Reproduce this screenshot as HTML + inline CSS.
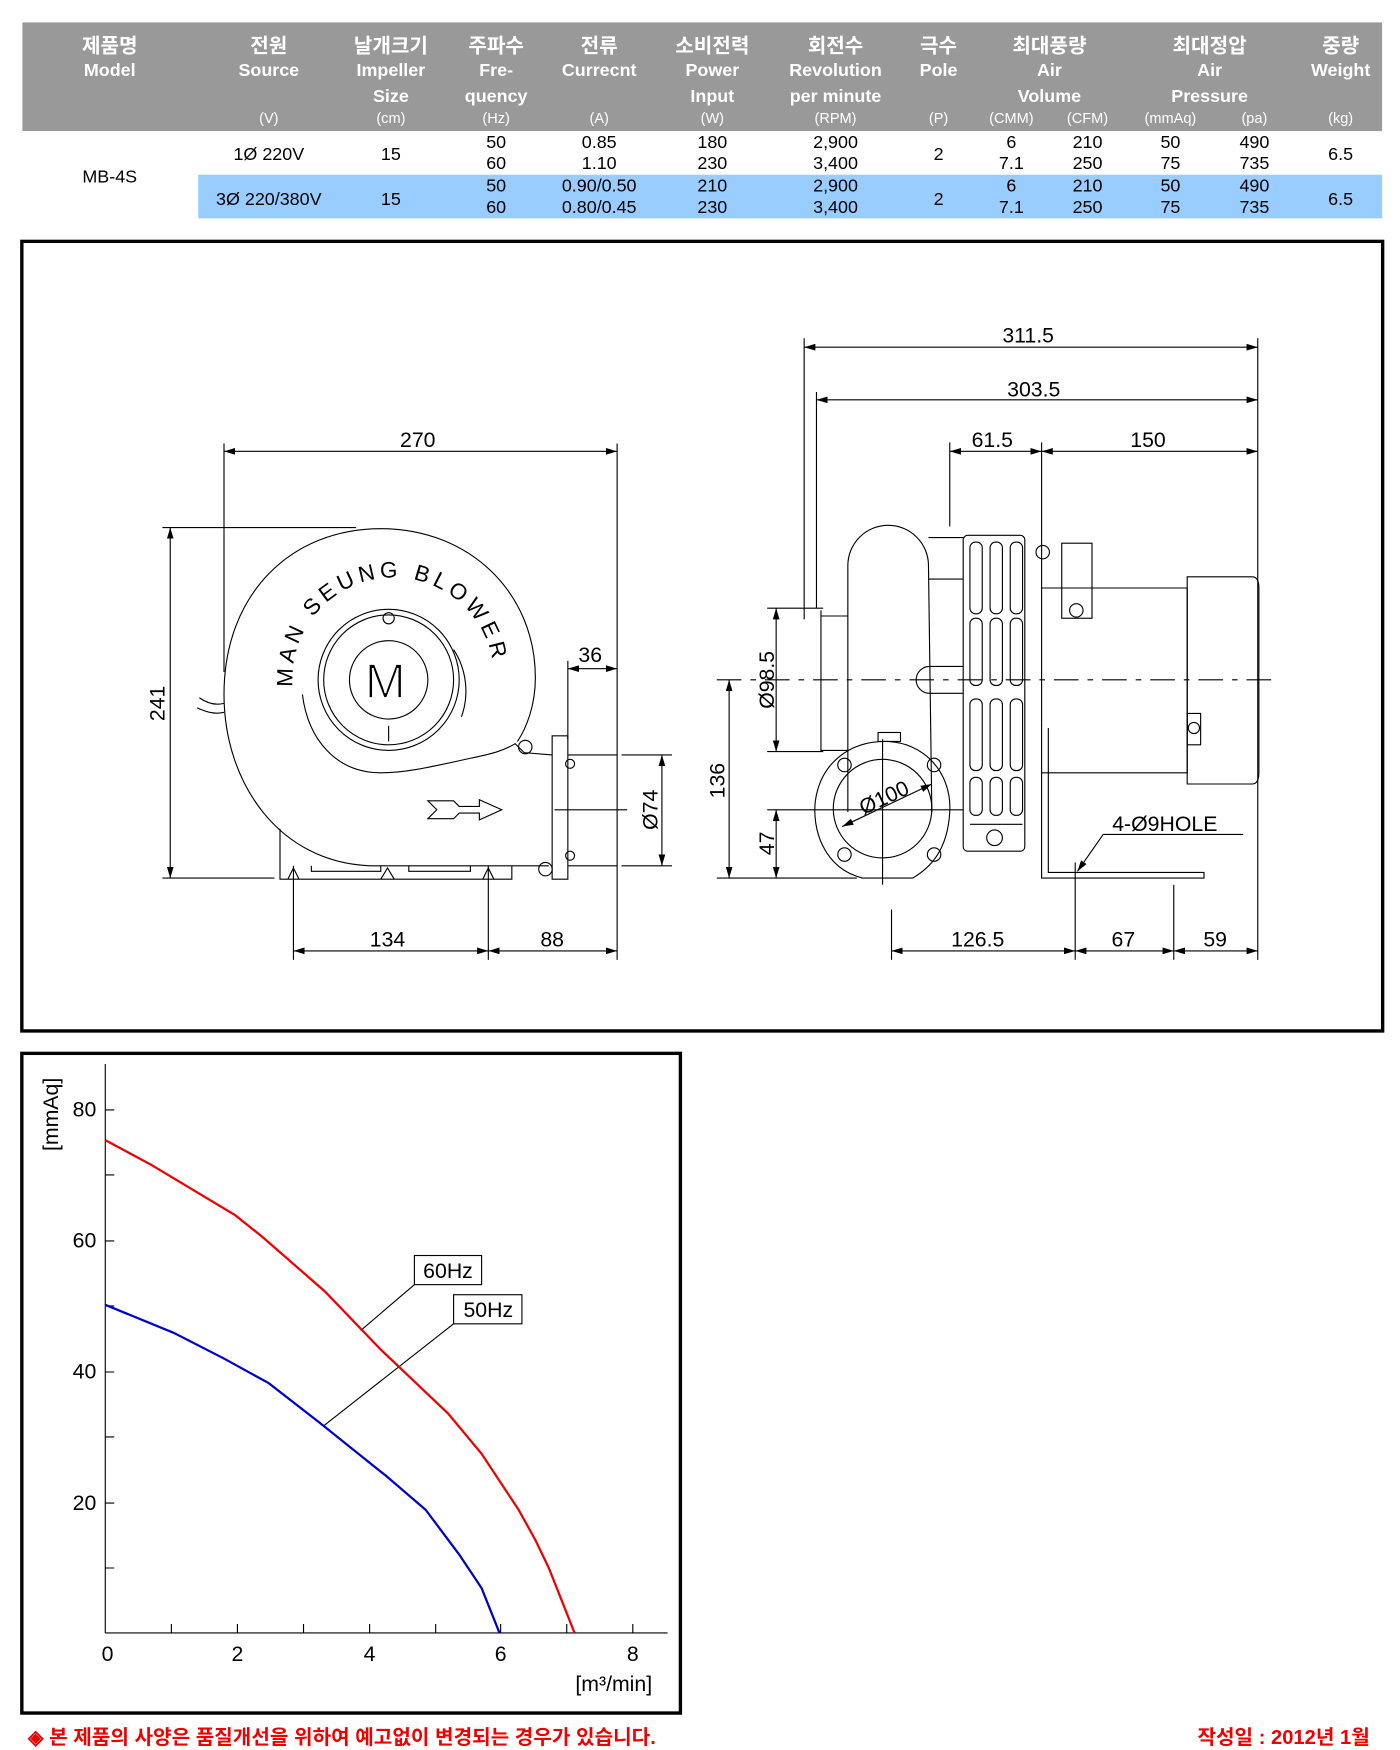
<!DOCTYPE html>
<html><head><meta charset="utf-8"><style>
html,body{margin:0;padding:0;background:#fff;}
svg{display:block;}
text{font-family:"Liberation Sans","Noto Sans CJK KR",sans-serif;}
</style></head><body>
<svg width="1400" height="1750" viewBox="0 0 1250 1562.5" xmlns="http://www.w3.org/2000/svg">
<rect x="20" y="20" width="1214" height="97" fill="#999"/>
<rect x="177" y="156" width="1057" height="39" fill="#99ccff"/>
<g fill="#fff" font-weight="bold" text-anchor="middle">
<g font-size="18">
<text x="98" y="47">제품명</text><text x="240" y="47">전원</text><text x="349" y="47">날개크기</text><text x="443" y="47">주파수</text><text x="535" y="47">전류</text><text x="636" y="47">소비전력</text><text x="746" y="47">회전수</text><text x="838" y="47">극수</text><text x="937" y="47">최대풍량</text><text x="1080" y="47">최대정압</text><text x="1197" y="47">중량</text>
</g>
<g font-size="16">
<text x="98" y="68">Model</text><text x="240" y="68">Source</text><text x="349" y="68">Impeller</text><text x="443" y="68">Fre-</text><text x="535" y="68">Currecnt</text><text x="636" y="68">Power</text><text x="746" y="68">Revolution</text><text x="838" y="68">Pole</text><text x="937" y="68">Air</text><text x="1080" y="68">Air</text><text x="1197" y="68">Weight</text>
<text x="349" y="91">Size</text><text x="443" y="91">quency</text><text x="636" y="91">Input</text><text x="746" y="91">per minute</text><text x="937" y="91">Volume</text><text x="1080" y="91">Pressure</text>
</g>
<g font-size="13" font-weight="normal">
<text x="240" y="110">(V)</text><text x="349" y="110">(cm)</text><text x="443" y="110">(Hz)</text><text x="535" y="110">(A)</text><text x="636" y="110">(W)</text><text x="746" y="110">(RPM)</text><text x="838" y="110">(P)</text><text x="903" y="110">(CMM)</text><text x="971" y="110">(CFM)</text><text x="1045" y="110">(mmAq)</text><text x="1120" y="110">(pa)</text><text x="1197" y="110">(kg)</text>
</g>
</g>
<g fill="#000" font-size="16" text-anchor="middle">
<text x="98" y="163">MB-4S</text>
<text x="240" y="143">1Ø 220V</text><text x="349" y="143">15</text>
<text x="443" y="132">50</text><text x="443" y="151">60</text>
<text x="535" y="132">0.85</text><text x="535" y="151">1.10</text>
<text x="636" y="132">180</text><text x="636" y="151">230</text>
<text x="746" y="132">2,900</text><text x="746" y="151">3,400</text>
<text x="838" y="143">2</text>
<text x="903" y="132">6</text><text x="903" y="151">7.1</text>
<text x="971" y="132">210</text><text x="971" y="151">250</text>
<text x="1045" y="132">50</text><text x="1045" y="151">75</text>
<text x="1120" y="132">490</text><text x="1120" y="151">735</text>
<text x="1197" y="143">6.5</text>
<text x="240" y="183">3Ø 220/380V</text><text x="349" y="183">15</text>
<text x="443" y="171">50</text><text x="443" y="190">60</text>
<text x="535" y="171">0.90/0.50</text><text x="535" y="190">0.80/0.45</text>
<text x="636" y="171">210</text><text x="636" y="190">230</text>
<text x="746" y="171">2,900</text><text x="746" y="190">3,400</text>
<text x="838" y="183">2</text>
<text x="903" y="171">6</text><text x="903" y="190">7.1</text>
<text x="971" y="171">210</text><text x="971" y="190">250</text>
<text x="1045" y="171">50</text><text x="1045" y="190">75</text>
<text x="1120" y="171">490</text><text x="1120" y="190">735</text>
<text x="1197" y="183">6.5</text>
</g>

<rect x="19.5" y="215.5" width="1215" height="705" fill="none" stroke="#000" stroke-width="3"/>
<defs>
<marker id="a" viewBox="0 0 10 6" refX="10" refY="3" markerWidth="10" markerHeight="6" orient="auto-start-reverse" markerUnits="userSpaceOnUse"><path d="M0,0L10,3L0,6z" fill="#000"/></marker>
<path id="arcT" d="M268,640 A90,90 0 1 1 440,620"/>
</defs>
<g stroke="#000" stroke-width="1" fill="none">
<line x1="200" y1="403" x2="551" y2="403" marker-start="url(#a)" marker-end="url(#a)"/>
<line x1="200" y1="396" x2="200" y2="600"/><line x1="551" y1="396" x2="551" y2="857"/>
<line x1="152" y1="471" x2="152" y2="784" marker-start="url(#a)" marker-end="url(#a)"/>
<line x1="145" y1="471" x2="318" y2="471"/><line x1="145" y1="784" x2="245" y2="784"/>
<line x1="507" y1="597" x2="551" y2="597" marker-start="url(#a)" marker-end="url(#a)"/>
<line x1="507" y1="590" x2="507" y2="660"/>
<line x1="591" y1="674" x2="591" y2="773" marker-start="url(#a)" marker-end="url(#a)"/>
<line x1="555" y1="674" x2="600" y2="674"/><line x1="555" y1="773" x2="600" y2="773"/>
<line x1="495" y1="723" x2="560" y2="723"/>
<line x1="262" y1="849" x2="436" y2="849" marker-start="url(#a)" marker-end="url(#a)"/>
<line x1="436" y1="849" x2="551" y2="849" marker-start="url(#a)" marker-end="url(#a)"/>
<line x1="262" y1="773" x2="262" y2="857"/><line x1="436" y1="773" x2="436" y2="857"/>
<path d="M490,773 L330,773 C250,770 200,700 200,620 C200,530 260,472 340,472 C420,472 478,530 478,605 C478,630 470,650 462,662"/>
<path d="M493,674 L468,672 L460,664 C450,670 440,673 420,677 C380,686 360,690 340,690 C300,690 275,660 270,620"/>
<circle cx="347" cy="607" r="63"/><circle cx="347" cy="607" r="58"/><circle cx="347" cy="607" r="35"/>
<path d="M405,580 A68,68 0 0 1 412,640"/>
<circle cx="347" cy="552" r="5"/><line x1="347" y1="648" x2="347" y2="662"/>
<circle cx="469" cy="667" r="6"/>
<rect x="493" y="657" width="14" height="128"/>
<line x1="507" y1="674" x2="551" y2="674"/><line x1="507" y1="773" x2="551" y2="773"/>
<circle cx="509" cy="682" r="4"/><circle cx="509" cy="764" r="4"/><circle cx="487" cy="776" r="6"/>
<path d="M250,740 L250,785 L457,785 L457,773"/>
<path d="M278,773 L278,778 L340,778 L340,773 M365,773 L365,778 L420,778 L420,773"/>
<path d="M257,785 L262,775 L267,785 M340,785 L346,775 L352,785 M431,785 L436,775 L441,785"/>
<path d="M382,715 L405,715 L410,720 L428,720 L428,714 L448,723 L428,732 L428,726 L410,726 L405,731 L382,731 L390,723 Z"/>
<path d="M178,623 C185,628 192,630 200,628 M176,632 C185,636 192,638 200,636"/>
<line x1="718" y1="310" x2="1123" y2="310" marker-start="url(#a)" marker-end="url(#a)"/>
<line x1="729" y1="357" x2="1123" y2="357" marker-start="url(#a)" marker-end="url(#a)"/>
<line x1="848" y1="403" x2="930" y2="403" marker-start="url(#a)" marker-end="url(#a)"/>
<line x1="930" y1="403" x2="1123" y2="403" marker-start="url(#a)" marker-end="url(#a)"/>
<line x1="718" y1="302" x2="718" y2="553"/><line x1="729" y1="350" x2="729" y2="543"/>
<line x1="848" y1="395" x2="848" y2="470"/><line x1="930" y1="395" x2="930" y2="480"/>
<line x1="1123" y1="302" x2="1123" y2="857"/>
<line x1="640" y1="607" x2="1135" y2="607" stroke-dasharray="22,8,5,8"/>
<line x1="693" y1="543" x2="693" y2="671" marker-start="url(#a)" marker-end="url(#a)"/>
<line x1="685" y1="543" x2="735" y2="543"/><line x1="685" y1="671" x2="735" y2="671"/>
<line x1="651" y1="607" x2="651" y2="784" marker-start="url(#a)" marker-end="url(#a)"/>
<line x1="693" y1="723" x2="693" y2="784" marker-start="url(#a)" marker-end="url(#a)"/>
<line x1="685" y1="723" x2="860" y2="723"/>
<line x1="640" y1="784" x2="765" y2="784"/>
<line x1="796" y1="849" x2="960" y2="849" marker-start="url(#a)" marker-end="url(#a)"/>
<line x1="960" y1="849" x2="1048" y2="849" marker-start="url(#a)" marker-end="url(#a)"/>
<line x1="1048" y1="849" x2="1123" y2="849" marker-start="url(#a)" marker-end="url(#a)"/>
<line x1="796" y1="812" x2="796" y2="857"/><line x1="960" y1="770" x2="960" y2="857"/><line x1="1048" y1="790" x2="1048" y2="857"/>
<path d="M757,725 L757,505 A36,36 0 0 1 829,505 L832,725"/>
<path d="M829,480 L860,480 M829,517 L860,517"/>
<path d="M733,550 L757,550 M733,545 L733,670 L757,670"/>
<path d="M830,595 A12,12 0 0 0 830,619 L860,619 M830,595 L860,595"/>
<path d="M770,784 C735,775 725,740 728,715 C733,680 760,662 790,662 C825,662 850,690 848,725 C846,760 830,775 815,784 Z"/>
<circle cx="788" cy="722" r="44"/>
<line x1="788" y1="660" x2="788" y2="790"/>
<line x1="752" y1="738" x2="832" y2="700" marker-start="url(#a)" marker-end="url(#a)"/>
<rect x="784" y="654" width="20" height="8"/>
<circle cx="754" cy="683" r="6"/><circle cx="834" cy="683" r="6"/><circle cx="754" cy="763" r="6"/><circle cx="834" cy="763" r="6"/>
<rect x="860" y="478" width="55" height="282" rx="4"/>
<g>
<rect x="866" y="484" width="11" height="64" rx="5"/><rect x="884" y="484" width="11" height="64" rx="5"/><rect x="902" y="484" width="11" height="64" rx="5"/>
<rect x="866" y="552" width="11" height="60" rx="5"/><rect x="884" y="552" width="11" height="60" rx="5"/><rect x="902" y="552" width="11" height="60" rx="5"/>
<rect x="866" y="624" width="11" height="64" rx="5"/><rect x="884" y="624" width="11" height="64" rx="5"/><rect x="902" y="624" width="11" height="64" rx="5"/>
<rect x="866" y="694" width="11" height="34" rx="5"/><rect x="884" y="694" width="11" height="34" rx="5"/><rect x="902" y="694" width="11" height="34" rx="5"/>
</g>
<line x1="866" y1="736" x2="913" y2="736"/>
<circle cx="888" cy="748" r="7"/>
<path d="M930,525 L1060,525 L1060,690 L930,690"/>
<path d="M1060,515 L1118,515 Q1124,515 1124,525 L1124,690 Q1124,700 1118,700 L1060,700 Z"/>
<rect x="948" y="485" width="27" height="67"/>
<circle cx="961" cy="545" r="6"/>
<rect x="1060" y="637" width="12" height="28"/><circle cx="1066" cy="650" r="5"/>
<line x1="930" y1="480" x2="930" y2="645"/>
<path d="M930,645 L930,784 L1075,784 L1075,779 L936,779 L936,650"/>
<circle cx="931" cy="493" r="6"/>
<path d="M1110,745 L985,745 L962,778" marker-end="url(#a)"/>
</g>
<g fill="#000" font-size="19" text-anchor="middle">
<text x="373" y="399">270</text>
<text x="527" y="591">36</text>
<text x="346" y="845">134</text><text x="493" y="845">88</text>
<text x="918" y="306">311.5</text><text x="923" y="354">303.5</text>
<text x="886" y="399">61.5</text><text x="1025" y="399">150</text>
<text x="873" y="845">126.5</text><text x="1003" y="845">67</text><text x="1085" y="845">59</text>
<text x="1040" y="742">4-Ø9HOLE</text>
<text transform="translate(147,628) rotate(-90)">241</text>
<text transform="translate(587,723) rotate(-90)">Ø74</text>
<text transform="translate(691,607) rotate(-90)">Ø98.5</text>
<text transform="translate(647,697) rotate(-90)">136</text>
<text transform="translate(691,753) rotate(-90)">47</text>
<text transform="translate(792,718) rotate(-25)">Ø100</text>
<text x="344" y="623" font-size="44" stroke="#fff" stroke-width="1.5">M</text>
<text font-size="20" letter-spacing="4"><textPath href="#arcT" startOffset="50%">MAN SEUNG BLOWER</textPath></text>
</g>

<rect x="19.5" y="940.5" width="588" height="589" fill="none" stroke="#000" stroke-width="3"/>
<g stroke="#000" stroke-width="1" fill="none">
<line x1="94" y1="950" x2="94" y2="1458"/><line x1="94" y1="1458" x2="596" y2="1458"/>
<path d="M94,991 h8 M94,1049 h8 M94,1108 h8 M94,1166 h8 M94,1225 h8 M94,1283 h8 M94,1342 h8 M94,1400 h8"/>
<path d="M153,1458 v-8 M212,1458 v-8 M271,1458 v-8 M330,1458 v-8 M389,1458 v-8 M447,1458 v-8 M506,1458 v-8 M565,1458 v-8"/>
<rect x="370" y="1121" width="60" height="26"/><rect x="405" y="1156" width="61" height="26"/>
<line x1="370" y1="1147" x2="322" y2="1188"/><line x1="405" y1="1182" x2="289" y2="1273"/>
</g>
<polyline fill="none" stroke="#e00" stroke-width="2" points="94,1018 135,1040 210,1085 235,1105 290,1153 340,1205 400,1262 430,1298 463,1348 478,1375 490,1400 513,1458"/>
<polyline fill="none" stroke="#00c" stroke-width="2" points="94,1165 155,1190 200,1213 240,1235 285,1270 345,1318 380,1348 410,1388 430,1418 446,1458"/>
<g fill="#000" font-size="19">
<g text-anchor="end"><text x="86" y="997">80</text><text x="86" y="1114">60</text><text x="86" y="1231">40</text><text x="86" y="1348">20</text></g>
<g text-anchor="middle"><text x="96" y="1483">0</text><text x="212" y="1483">2</text><text x="330" y="1483">4</text><text x="447" y="1483">6</text><text x="565" y="1483">8</text></g>
<text x="548" y="1510" text-anchor="middle">[m³/min]</text>
<text transform="translate(52,995) rotate(-90)" text-anchor="middle">[mmAq]</text>
<text x="400" y="1141" text-anchor="middle">60Hz</text><text x="436" y="1176" text-anchor="middle">50Hz</text>
</g>
<g fill="#e00" font-size="18" font-weight="bold">
<text x="25" y="1557">◈ 본 제품의 사양은 품질개선을 위하여 예고없이 변경되는 경우가 있습니다.</text>
<text x="1223" y="1557" text-anchor="end">작성일 : 2012년 1월</text>
</g>
</svg>
</body></html>
